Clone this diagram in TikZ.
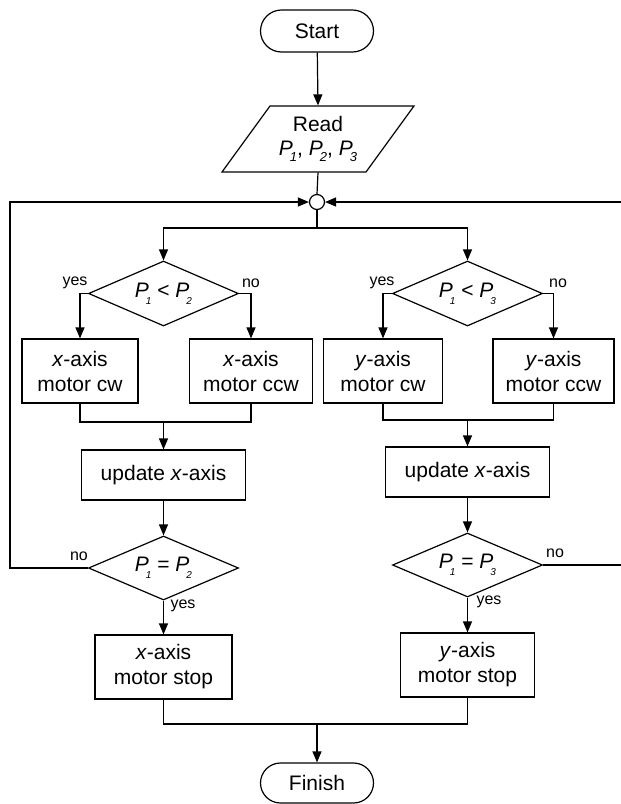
\documentclass[tikz,border=0pt]{standalone}
\usepackage{fontspec}
\setmainfont{Liberation Sans}
\usetikzlibrary{arrows.meta,shapes.geometric,shapes.misc}
\newcommand\sbA[1]{\raisebox{-0.3em}{\fontsize{13}{13}\selectfont\itshape #1}}
\newcommand\sbB[1]{\raisebox{-0.32em}{\fontsize{10}{10}\selectfont\itshape #1}}
\newcommand\PA[1]{\textit{P}\kern-3pt\sbA{#1}}
\newcommand\PB[1]{\textit{P}\kern-3pt\sbB{#1}}
\begin{document}
\begin{tikzpicture}[x=1pt,y=-1pt,
  line width=1.2pt,
  every node/.style={font=\fontsize{21}{25}\selectfont, align=center, inner sep=0pt},
  arr/.style={-{Triangle[length=11pt,width=9pt]}},
  term/.style={draw, rounded rectangle, minimum width=113pt},
  procbox/.style={draw, rectangle, minimum height=64pt},
  decis/.style={draw, diamond, minimum width=150pt, minimum height=65pt, aspect=2.3},
  lbl/.style={font=\fontsize{16}{18}\selectfont}]
\useasboundingbox (0,0) rectangle (621,804);

% nodes
\node[term, minimum height=42pt] (start) at (317,31) {Start};
\draw (270,106) -- (414,106) -- (366,172) -- (222,172) -- cycle;
\node[minimum height=66pt, minimum width=100pt, font=\fontsize{21}{24}\selectfont] (read) at (318,139) {Read\\[0pt]\PA{1}, \PA{2}, \PA{3}};
\node[draw, circle, minimum size=15pt, fill=white] (circ) at (317,202) {};
\coordinate (split) at (317,228);
\coordinate (lx) at (10,202);
\coordinate (rx) at (623,202);

\node[decis] (d1) at (163.5,293.5) {\PB{1} {<} \PB{2}};
\node[decis] (d2) at (467.5,293.5) {\PB{1} {<} \PB{3}};

\node[procbox, minimum width=116pt] (b1) at (80,371) {\textit{x}-axis\\motor cw};
\node[procbox, minimum width=123pt] (b2) at (251,371) {\textit{x}-axis\\motor ccw};
\node[procbox, minimum width=119pt] (b3) at (383,371) {\textit{y}-axis\\motor cw};
\node[procbox, minimum width=121pt] (b4) at (553.5,371) {\textit{y}-axis\\motor ccw};

\coordinate (j1) at (163.5,422);
\coordinate (j2) at (467.5,420);

\node[procbox, minimum width=164pt, minimum height=50pt] (u1) at (163.5,475) {update \textit{x}-axis};
\node[procbox, minimum width=164pt, minimum height=50pt] (u2) at (467.5,472) {update \textit{x}-axis};

\node[decis, minimum height=64pt] (d3) at (163.5,568) {\PB{1} = \PB{2}};
\node[decis, minimum height=64pt] (d4) at (467.5,565) {\PB{1} = \PB{3}};

\node[procbox, minimum width=137pt] (s1) at (163.5,667) {\textit{x}-axis\\motor stop};
\node[procbox, minimum width=134pt] (s2) at (467.5,665) {\textit{y}-axis\\motor stop};

\coordinate (j3) at (317,724);
\node[term, minimum height=40pt] (finish) at (317,783) {Finish};

% labels
\node[lbl] (yes1) at (75,283) {yes};
\node[lbl] (no1) at (251,283) {no};
\node[lbl] (yes2) at (382,283) {yes};
\node[lbl] (no2) at (558,283) {no};
\node[lbl] (no3) at (79,556) {no};
\node[lbl] (yes3) at (183,606) {yes};
\node[lbl] (no4) at (555,553) {no};
\node[lbl] (yes4) at (489,602) {yes};

% connectors
\draw[arr] (start) -- (read.north);
\draw (read.south) -- (circ.north);
\draw (circ.south) -- (split);
\draw[arr] (split) -| (d1.north);
\draw[arr] (split) -| (d2.north);
\draw[arr] (d1.west) -| (b1.north);
\draw[arr] (d1.east) -| (b2.north);
\draw[arr] (d2.west) -| (b3.north);
\draw[arr] (d2.east) -| (b4.north);
\draw (b1.south) |- (j1) -| (b2.south);
\draw (b3.south) |- (j2) -| (b4.south);
\draw[arr] (j1) -- (u1.north);
\draw[arr] (j2) -- (u2.north);
\draw[arr] (u1) -- (d3.north);
\draw[arr] (u2) -- (d4.north);
\draw[arr] (d3.south) -- (s1.north);
\draw[arr] (d4.south) -- (s2.north);
\draw[arr] (d3.west) -| (lx) -- (circ.west);
\draw[arr] (d4.east) -| (rx) -- (circ.east);
\draw (s1.south) |- (j3);
\draw (s2.south) |- (j3);
\draw[arr] (j3) -- (finish.north);
\end{tikzpicture}
\end{document}
